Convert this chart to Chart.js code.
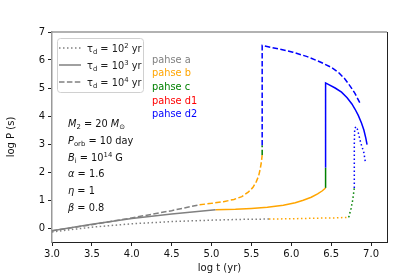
<!DOCTYPE html>
<html>
<head>
<meta charset="utf-8">
<script src="https://cdn.jsdelivr.net/npm/chart.js@4.4.1/dist/chart.umd.min.js"></script>
<style>
  html, body { margin: 0; padding: 0; background: #fff; }
  #wrap { width: 415px; height: 277px; }
</style>
</head>
<body>
<div id="wrap"><canvas id="chart" width="415" height="277"></canvas></div>
<script>
// ===== DATA: log t (yr) vs log P (s) =====
// tau_d = 10^2 yr (dotted)
const dotA = [[3.0, -0.14], [3.5, 0.03], [4.0, 0.15], [4.5, 0.23], [5.0, 0.28], [5.4, 0.31], [5.72, 0.32]];
const dotB = [[5.72, 0.32], [6.0, 0.33], [6.3, 0.35], [6.55, 0.36], [6.72, 0.38]];
const dotC = [[6.72, 0.38], [6.75, 0.7], [6.77, 1.0], [6.79, 1.43]];
const dotD2 = [[6.79, 1.43], [6.79, 3.0], [6.795, 3.55], [6.81, 3.62], [6.83, 3.52], [6.87, 3.05], [6.91, 2.69], [6.93, 2.33]];

// tau_d = 10^3 yr (solid)
const solA = [[3.0, -0.1], [3.5, 0.13], [4.0, 0.34], [4.5, 0.5], [5.05, 0.65]];
const solB = [[5.05, 0.65], [5.3, 0.67], [5.5, 0.7], [5.7, 0.74], [5.9, 0.81], [6.05, 0.9], [6.15, 0.99],
              [6.25, 1.1], [6.33, 1.22], [6.39, 1.33], [6.43, 1.43]];
const solC = [[6.43, 1.43], [6.43, 2.15]];
const solD2 = [[6.43, 2.15], [6.43, 5.18], [6.47, 5.12], [6.55, 5.0], [6.63, 4.85], [6.7, 4.65], [6.76, 4.43],
               [6.8, 4.24], [6.84, 4.02], [6.88, 3.75], [6.91, 3.5], [6.935, 3.2], [6.95, 2.98]];

// tau_d = 10^4 yr (dashed)
const dasA = [[3.0, -0.1], [3.5, 0.12], [4.0, 0.36], [4.5, 0.62], [4.85, 0.83]];
const dasB = [[4.85, 0.83], [5.0, 0.88], [5.15, 0.94], [5.28, 1.02], [5.38, 1.12], [5.46, 1.28], [5.52, 1.45],
              [5.56, 1.65], [5.59, 1.85], [5.61, 2.1], [5.625, 2.35], [5.635, 2.6]];
const dasC = [[5.635, 2.6], [5.635, 2.95]];
const dasD2 = [[5.635, 2.95], [5.635, 6.52], [5.8, 6.42], [6.02, 6.28], [6.2, 6.12], [6.37, 5.92], [6.5, 5.74],
               [6.59, 5.56], [6.67, 5.33], [6.74, 5.06], [6.8, 4.8], [6.87, 4.41]];

const xTicks = [3.0, 3.5, 4.0, 4.5, 5.0, 5.5, 6.0, 6.5, 7.0];
const yTicks = [0, 1, 2, 3, 4, 5, 6, 7];

const phaseNames = ["pahse a", "pahse b", "pahse c", "pahse d1", "pahse d2"];
const phaseColors = ["#808080", "#ffa500", "#008000", "#ff0000", "#0000ff"];

const DOTTED = [1.5, 2.5];
const DASHED = [5.5, 2.4];

function seg(points, color, dash) {
  return {
    data: points.map(p => ({ x: p[0], y: p[1] })),
    borderColor: color,
    borderWidth: 1.5,
    borderDash: dash,
    pointRadius: 0,
    fill: false,
    tension: 0
  };
}

const datasets = [
  seg(dotA, phaseColors[0], DOTTED),
  seg(dotB, phaseColors[1], DOTTED),
  seg(dotC, phaseColors[2], DOTTED),
  seg(dotD2, phaseColors[4], DOTTED),
  seg(solA, phaseColors[0], []),
  seg(solB, phaseColors[1], []),
  seg(solC, phaseColors[2], []),
  seg(solD2, phaseColors[4], []),
  seg(dasA, phaseColors[0], DASHED),
  seg(dasB, phaseColors[1], DASHED),
  seg(dasC, phaseColors[2], DASHED),
  seg(dasD2, phaseColors[4], DASHED)
];

// draw text with italic / sub / sup pieces (mathtext-ish)
function rich(ctx, x, y, parts, size) {
  let cx = x;
  parts.forEach(([t, s]) => {
    let fs = size, dy = 0, style = "";
    if (s === "i") style = "italic ";
    if (s === "sub") { fs = size * 0.7; dy = size * 0.22; }
    if (s === "sup") { fs = size * 0.7; dy = -size * 0.4; }
    ctx.font = style + fs + "px 'DejaVu Sans'";
    ctx.fillText(t, cx, y + dy);
    cx += ctx.measureText(t).width;
  });
}

const extras = {
  id: "extras",
  afterDraw(chart) {
    const ctx = chart.ctx;
    const a = chart.chartArea;
    ctx.save();
    // top + right spines
    ctx.lineWidth = 1.5;
    ctx.strokeStyle = "#999999";
    ctx.beginPath(); ctx.moveTo(a.left, a.top); ctx.lineTo(a.right, a.top); ctx.stroke();
    ctx.lineWidth = 1;
    ctx.strokeStyle = "#222";
    ctx.beginPath(); ctx.moveTo(a.right + 0.5, a.top); ctx.lineTo(a.right + 0.5, a.bottom); ctx.stroke();

    // legend box
    ctx.fillStyle = "rgba(255,255,255,0.8)";
    ctx.strokeStyle = "#d0d0d0";
    ctx.lineWidth = 1;
    ctx.beginPath();
    ctx.roundRect(57.5, 38.5, 86, 54, 3);
    ctx.fill(); ctx.stroke();
    const styles = [DOTTED, [], DASHED];
    const pw = ["2", "3", "4"];
    [48, 65, 82].forEach((ly, i) => {
      ctx.strokeStyle = "#808080";
      ctx.lineWidth = 1.5;
      ctx.setLineDash(styles[i]);
      ctx.beginPath(); ctx.moveTo(59, ly); ctx.lineTo(81, ly); ctx.stroke();
      ctx.setLineDash([]);
      ctx.fillStyle = "#222";
      ctx.textBaseline = "alphabetic";
      rich(ctx, 87, ly + 3.5, [["τ", ""], ["d", "sub"], [" = 10", ""], [pw[i], "sup"], [" yr", ""]], 9.8);
    });

    // phase labels
    phaseNames.forEach((n, i) => {
      ctx.fillStyle = phaseColors[i];
      ctx.font = "9.8px 'DejaVu Sans'";
      ctx.fillText(n, 152, 62.5 + i * 13.7);
    });

    // parameters
    ctx.fillStyle = "#111";
    const params = [
      [["M", "i"], ["2", "sub"], [" = 20 ", ""], ["M", "i"], ["⊙", "sub"]],
      [["P", "i"], ["orb", "sub"], [" = 10 day", ""]],
      [["B", "i"], ["i", "sub"], [" = 10", ""], ["14", "sup"], [" G", ""]],
      [["α", "i"], [" = 1.6", ""]],
      [["η", "i"], [" = 1", ""]],
      [["β", "i"], [" = 0.8", ""]]
    ];
    params.forEach((p, i) => rich(ctx, 68, 127 + i * 16.8, p, 9.8));
    ctx.restore();
  }
};

new Chart(document.getElementById("chart").getContext("2d"), {
  type: "line",
  data: { datasets },
  options: {
    responsive: false,
    animation: false,
    layout: { padding: { top: 32, right: 28, left: 0, bottom: 0 } },
    plugins: { legend: { display: false }, tooltip: { enabled: false } },
    scales: {
      x: {
        type: "linear",
        min: 3.0,
        max: 7.2,
        afterBuildTicks: s => { s.ticks = xTicks.map(v => ({ value: v })); },
        afterFit: s => { s.height = 35; },
        ticks: {
          color: "#111",
          font: { family: "DejaVu Sans", size: 10 },
          padding: 2,
          maxRotation: 0,
          callback: v => v.toFixed(1)
        },
        grid: { drawOnChartArea: false, tickLength: 4, tickColor: "#222" },
        border: { color: "#222", width: 1 },
        title: {
          display: true,
          text: "log t (yr)",
          color: "#111",
          font: { family: "DejaVu Sans", size: 10 },
          padding: { top: 1, bottom: 3 }
        }
      },
      y: {
        type: "linear",
        min: -0.5,
        max: 7,
        afterBuildTicks: s => { s.ticks = yTicks.map(v => ({ value: v })); },
        afterFit: s => { s.width = 52; },
        ticks: {
          color: "#111",
          font: { family: "DejaVu Sans", size: 10 },
          padding: 3,
          callback: v => String(v)
        },
        grid: { drawOnChartArea: false, tickLength: 4, tickColor: "#222" },
        border: { color: "#999999", width: 1.5 },
        title: {
          display: true,
          text: "log P (s)",
          color: "#111",
          font: { family: "DejaVu Sans", size: 10 },
          padding: { top: 5, bottom: 4 }
        }
      }
    }
  },
  plugins: [extras]
});
</script>
</body>
</html>
